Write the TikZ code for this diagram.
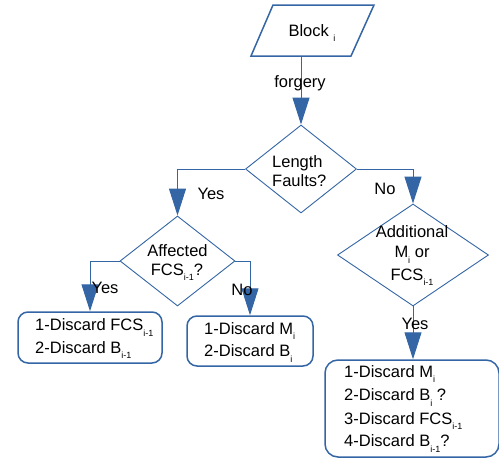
\documentclass[tikz,border=0pt]{standalone}
\usepackage{fontspec}
\setmainfont{Liberation Sans}
\usetikzlibrary{shapes.geometric,arrows.meta}
\definecolor{lblue}{HTML}{3465A4}
\newcommand\lsub[1]{\raisebox{-5.5pt}{\fontsize{9}{9}\selectfont #1}}
\begin{document}
\begin{tikzpicture}[x=1pt,y=-1pt,
  font=\fontsize{16.5}{20}\selectfont,
  dia/.style={draw=lblue, line width=0.9pt, shape=diamond, inner sep=0pt},
  box/.style={draw=lblue, line width=1.5pt, rounded corners=10pt, inner sep=0pt},
  conn/.style={draw=lblue, line width=1pt, -{Triangle[width=17pt,length=27pt]}},
  txt/.style={inner sep=0pt, anchor=base},
  txtl/.style={inner sep=0pt, anchor=base west}]
\useasboundingbox (0,0) rectangle (499,458);
% input block
\draw[lblue, line width=1.5pt] (273,5)--(374,5)--(351,56)--(251,56)--cycle;
\node[txt] (blk) at (312,36) {Block \lsub{i}};
\coordinate (blkb) at (301,56);
% decisions
\node[dia, minimum width=111pt, minimum height=88pt] (d1) at (301,169) {};
\node[dia, minimum width=115pt, minimum height=90pt] (d2) at (177.5,261) {};
\node[dia, minimum width=151pt, minimum height=102pt] (d3) at (413,255) {};
% boxes
\node[box, minimum width=144pt, minimum height=51pt] (b1) at (90,337.5) {};
\node[box, minimum width=126pt, minimum height=50pt] (b2) at (250,341) {};
\node[box, rounded corners=13pt, minimum width=174pt, minimum height=97pt] (b3) at (412,408.5) {};
% connectors
\draw[conn] (blkb) -- (d1.north);
\draw[conn] (d1.west) -| (d2.north);
\draw[conn] (d1.east) -| (d3.north);
\draw[conn] (d2.west) -| (b1.north);
\draw[conn] (d2.east) -| (b2.north);
\draw[conn] (d3.south) -- (d3.south |- b3.north);
% labels
\node[txt] (lforg) at (300,87.5) {forgery};
\node[txtl] (t1a) at (272,167) {Length};
\node[txtl] (t1b) at (272,186) {Faults?};
\node[txt] (ly1) at (211,199) {Yes};
\node[txt] (ln1) at (385,194) {No};
\node[txt] (t2a) at (177.5,256) {Affected};
\node[txt] (t2b) at (177,275) {FCS\lsub{i-1}?};
\node[txt] (ly2) at (105,293) {Yes};
\node[txt] (ln2) at (242,295) {No};
\node[txt] (t3a) at (412,237.5) {Additional};
\node[txt] (t3b) at (412,257.5) {M\lsub{i} or};
\node[txt] (t3c) at (412,280) {FCS\lsub{i-1}};
\node[txt] (ly3) at (415,329) {Yes};
% box texts
\node[txtl] (b1a) at (35,330.7) {1-Discard FCS\lsub{i-1}};
\node[txtl] (b1b) at (35,353) {2-Discard B\lsub{i-1}};
\node[txtl] (b2a) at (204,334) {1-Discard M\lsub{i}};
\node[txtl] (b2b) at (204,356.7) {2-Discard B\lsub{i}};
\node[txtl] (b3a) at (344,377.3) {1-Discard M\lsub{i}};
\node[txtl] (b3b) at (344,400.7) {2-Discard B\lsub{i} ?};
\node[txtl] (b3c) at (344,424) {3-Discard FCS\lsub{i-1}};
\node[txtl] (b3d) at (344,446.7) {4-Discard B\lsub{i-1}?};
\end{tikzpicture}
\end{document}
